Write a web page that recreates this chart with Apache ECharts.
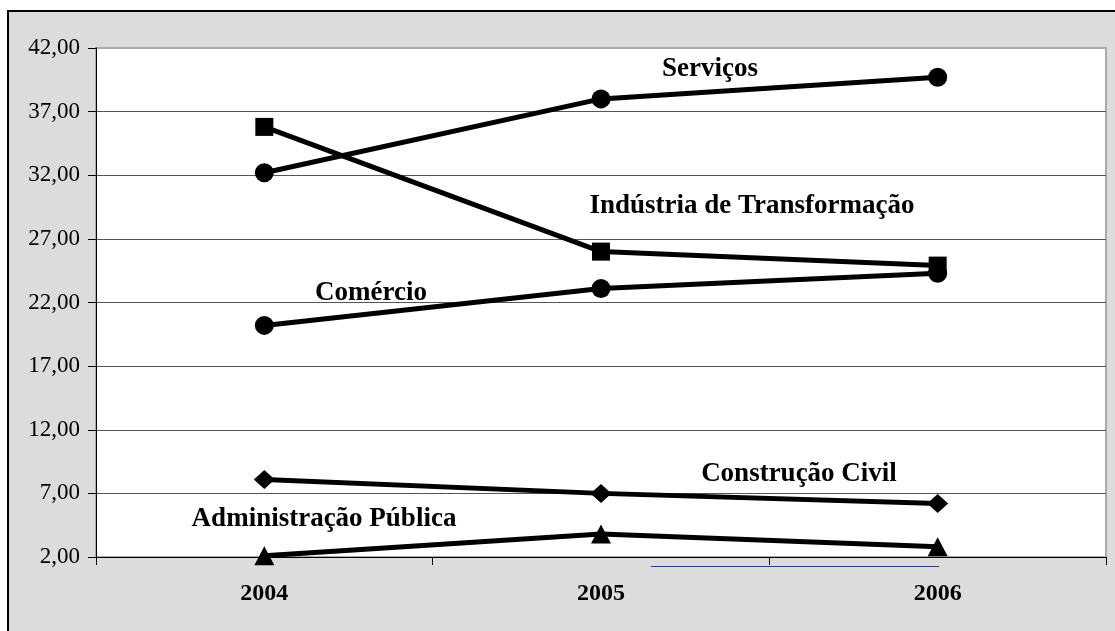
<!DOCTYPE html>
<html>
<head>
    <meta charset="utf-8" />
    <title>Setores 2004-2006</title>
    <script type="text/javascript" src="https://cdn.jsdelivr.net/npm/echarts@6/dist/echarts.min.js"></script>
    <style>
        html, body { margin: 0; padding: 0; background: #fff; overflow: hidden; }
        #frame { position: absolute; left: 7px; top: 10px; width: 1200px; height: 700px;
                 border: 2px solid #000; background: #dcdcdc; }
        #main { position: absolute; left: 0; top: 0; width: 1115px; height: 631px; }
    </style>
</head>
<body>
<div id="frame"></div>
<div id="main"></div>
<script type="text/javascript">
    // dados
    var anos = ['2004', '2005', '2006'];
    var servicos = [32.2, 38.0, 39.7];
    var industria = [35.8, 26.0, 24.9];
    var comercio = [20.2, 23.1, 24.3];
    var construcao = [8.1, 7.0, 6.2];
    var administracao = [2.1, 3.8, 2.8];
    var yMin = 2, yMax = 42, yPasso = 5;

    var serif = '"Liberation Serif", "Times New Roman", serif';
    var fonteRotulo = 'bold 27px ' + serif;

    function serie(nome, dados, simbolo, tamanho) {
        return {
            name: nome,
            type: 'line',
            data: dados,
            symbol: simbolo,
            symbolSize: tamanho,
            showAllSymbol: true,
            lineStyle: { color: '#000', width: 5 },
            itemStyle: { color: '#000' },
            emphasis: { disabled: true },
            z: 3
        };
    }

    // linhas de grade: a de cima é cinza como a borda
    var coresGrade = [];
    for (var v = yMin; v <= yMax; v += yPasso) {
        coresGrade.push(v === yMax ? '#aaaaaa' : '#555555');
    }

    var myChart = echarts.init(document.getElementById('main'));
    var option = {
        backgroundColor: 'transparent',
        animation: false,
        grid: {
            left: 96, top: 48, right: 9, bottom: 74,
            show: true,
            backgroundColor: '#ffffff',
            borderColor: '#aaaaaa',
            borderWidth: 2
        },
        xAxis: {
            type: 'category',
            data: anos,
            boundaryGap: true,
            axisLine: { lineStyle: { color: '#000', width: 1 } },
            axisTick: { show: true, length: 8, lineStyle: { color: '#000' } },
            axisLabel: {
                margin: 25,
                color: '#000',
                fontFamily: serif,
                fontWeight: 'bold',
                fontSize: 24
            },
            splitLine: { show: false }
        },
        yAxis: {
            type: 'value',
            min: yMin,
            max: yMax,
            interval: yPasso,
            axisLine: { show: true, lineStyle: { color: '#000', width: 1 } },
            axisTick: { show: true, length: 8, lineStyle: { color: '#000' } },
            axisLabel: {
                margin: 16,
                color: '#000',
                fontFamily: serif,
                fontSize: 23,
                formatter: function (v) { return v.toFixed(2).replace('.', ','); }
            },
            splitLine: { show: true, lineStyle: { color: coresGrade, width: 1 } }
        },
        series: [
            serie('Serviços', servicos, 'circle', 19),
            serie('Indústria de Transformação', industria, 'rect', 18),
            serie('Comércio', comercio, 'circle', 19),
            serie('Construção Civil', construcao, 'diamond', [21, 19]),
            serie('Administração Pública', administracao, 'triangle', [20, 19])
        ],
        graphic: [
            { type: 'text', x: 710, y: 69, z: 10,
              style: { text: 'Serviços', font: fonteRotulo, fill: '#000', align: 'center', verticalAlign: 'middle' } },
            { type: 'text', x: 752, y: 206, z: 10,
              style: { text: 'Indústria de Transformação', font: fonteRotulo, fill: '#000', align: 'center', verticalAlign: 'middle' } },
            { type: 'text', x: 371, y: 293, z: 10,
              style: { text: 'Comércio', font: fonteRotulo, fill: '#000', align: 'center', verticalAlign: 'middle' } },
            { type: 'text', x: 799, y: 474, z: 10,
              style: { text: 'Construção Civil', font: fonteRotulo, fill: '#000', align: 'center', verticalAlign: 'middle' } },
            { type: 'text', x: 324, y: 519, z: 10,
              style: { text: 'Administração Pública', font: fonteRotulo, fill: '#000', align: 'center', verticalAlign: 'middle' } },
            // traço azul sob o eixo
            { type: 'line', z: 10,
              shape: { x1: 651, y1: 566.5, x2: 939, y2: 566.5 },
              style: { stroke: '#2030c0', lineWidth: 1 } }
        ]
    };
    myChart.setOption(option);
</script>
</body>
</html>
